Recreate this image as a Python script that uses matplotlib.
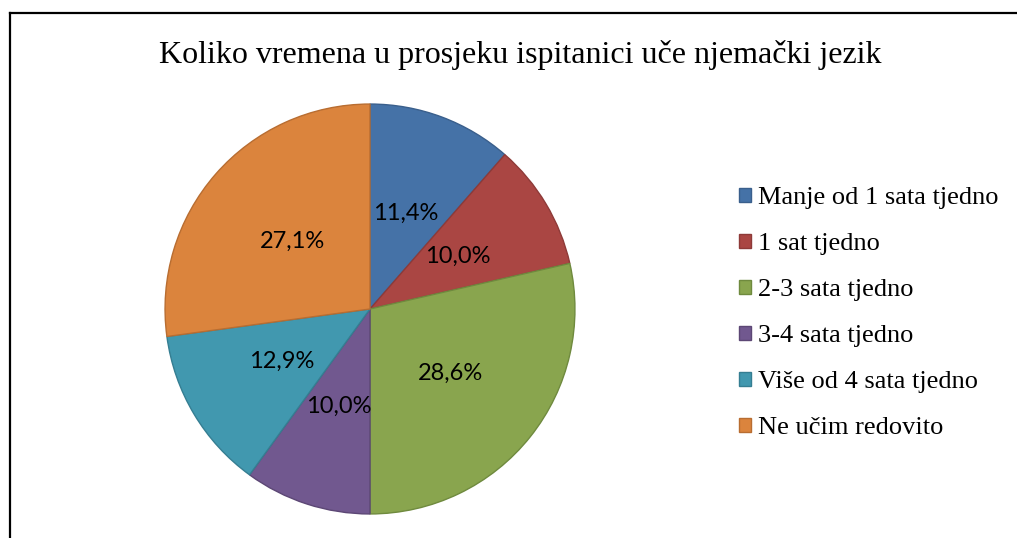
import matplotlib
matplotlib.use("Agg")
import matplotlib.pyplot as plt
from matplotlib.lines import Line2D
from matplotlib.patches import Patch

title = "Koliko vremena u prosjeku ispitanici uče njemački jezik"
categories = ["Manje od 1 sata tjedno", "1 sat tjedno", "2-3 sata tjedno",
              "3-4 sata tjedno", "Više od 4 sata tjedno", "Ne učim redovito"]
counts = [8, 7, 20, 7, 9, 19]
colors = ["#4572A7", "#AA4643", "#89A54E", "#71588F", "#4198AF", "#DB843D"]
edges = ["#3A5F8C", "#8E3A38", "#6F8A3E", "#5C4775", "#357E92", "#B86D31"]

W, H = 1017, 538
fig = plt.figure(figsize=(W / 100, H / 100), dpi=100)
fig.patch.set_facecolor("white")

cx, cy, r = 370, 309, 207
ax = fig.add_axes([(cx - r) / W, (H - cy - r) / H, 2 * r / W, 2 * r / H])

def fmt(p):
    return f"{p:.1f}%".replace(".", ",")

wedges, texts = ax.pie(counts, colors=colors, startangle=90, counterclock=False,
                       radius=1, labels=[fmt(c / sum(counts) * 100) for c in counts],
                       labeldistance=0.5,
                       wedgeprops=dict(linewidth=1.0),
                       textprops=dict(fontsize=17, family="Lato", color="black",
                                      ha="center", va="center"))
for w, e in zip(wedges, edges):
    w.set_edgecolor(e)
ax.set_xlim(-1.01, 1.01)
ax.set_ylim(-1.01, 1.01)
ax.set_aspect("equal")
ax.axis("off")

fig.text(520 / W, 1 - 55 / H, title, ha="center", va="center",
         fontsize=23, family="Liberation Serif")

handles = [Patch(facecolor=c, edgecolor=e, linewidth=1.0) for c, e in zip(colors, edges)]
fig.legend(handles, categories, loc="upper left", bbox_to_anchor=(739 / W, 1 - 187 / H),
           frameon=False, handlelength=0.45, handleheight=0.45, handletextpad=0.27,
           labelspacing=0.91, borderpad=0, borderaxespad=0,
           prop=dict(family="Liberation Serif", size=19))

fig.add_artist(Line2D([9.5 / W, 1], [1 - 12.5 / H, 1 - 12.5 / H], color="black",
                      linewidth=1.6, transform=fig.transFigure))
fig.add_artist(Line2D([9.5 / W, 9.5 / W], [0, 1 - 12.5 / H], color="black",
                      linewidth=1.6, transform=fig.transFigure))

fig.savefig("out.png", dpi=100)
